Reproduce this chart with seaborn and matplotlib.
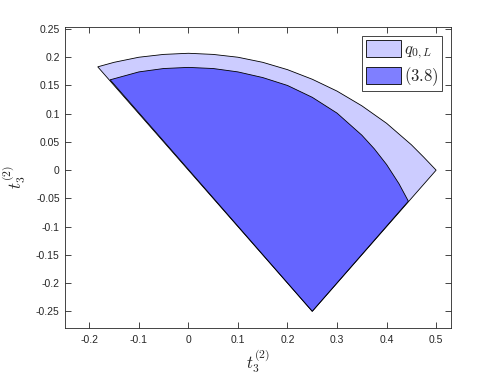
import numpy as np
import matplotlib
matplotlib.use("Agg")
import matplotlib.pyplot as plt
import seaborn as sns

# apex of both regions
apex_x = 0.25
apex_y = -0.25

# outer boundary (q_{0,L})
outer_x = [-0.183, -0.15, -0.1, -0.05, 0.0, 0.05, 0.1, 0.15, 0.2, 0.25, 0.3, 0.35, 0.4, 0.45, 0.475, 0.5]
outer_y = [0.183, 0.191, 0.200, 0.205, 0.207, 0.205, 0.200, 0.191, 0.178, 0.161, 0.140, 0.114, 0.083, 0.045, 0.023, 0.0]

# inner boundary (3.8)
inner_x = [-0.158, -0.1, -0.05, 0.0, 0.05, 0.1, 0.15, 0.2, 0.25, 0.3, 0.35, 0.375, 0.4, 0.425, 0.444]
inner_y = [0.160, 0.174, 0.180, 0.182, 0.180, 0.174, 0.164, 0.150, 0.129, 0.101, 0.062, 0.038, 0.010, -0.024, -0.055]

labels = [r"$q_{0,L}$", r"$(3.8)$"]

xticks = [-0.2, -0.1, 0, 0.1, 0.2, 0.3, 0.4, 0.5]
xtick_labels = ["-0.2", "-0.1", "0", "0.1", "0.2", "0.3", "0.4", "0.5"]
yticks = [-0.25, -0.2, -0.15, -0.1, -0.05, 0, 0.05, 0.1, 0.15, 0.2, 0.25]
ytick_labels = ["-0.25", "-0.2", "-0.15", "-0.1", "-0.05", "0", "0.05", "0.1", "0.15", "0.2", "0.25"]

sns.set_style("white")
plt.rcParams["font.family"] = ["Liberation Sans", "DejaVu Sans"]
plt.rcParams["mathtext.fontset"] = "cm"

fig = plt.figure(figsize=(4.98, 3.74), dpi=100)
ax = fig.add_axes([0.1296, 0.1238, 0.776, 0.8032])

ink = "#262626"

ax.fill([apex_x] + outer_x + [apex_x], [apex_y] + outer_y + [apex_y],
        facecolor=(0, 0, 1, 0.2), edgecolor="k", linewidth=0.6, label=labels[0])
ax.fill([apex_x] + inner_x + [apex_x], [apex_y] + inner_y + [apex_y],
        facecolor=(0, 0, 1, 0.5), edgecolor="k", linewidth=0.6, label=labels[1])

ax.set_xlim(-0.25, 0.53)
ax.set_ylim(-0.279, 0.253)
ax.set_xticks(xticks)
ax.set_xticklabels(xtick_labels)
ax.set_yticks(yticks)
ax.set_yticklabels(ytick_labels)

ax.tick_params(axis="both", direction="in", length=4, width=0.6, colors=ink,
               labelsize=7.5, top=True, right=True, bottom=True, left=True)
ax.tick_params(axis="x", pad=5.5)
ax.tick_params(axis="y", pad=3.5)
for s in ax.spines.values():
    s.set_color(ink)
    s.set_linewidth(0.6)
    s.set_visible(True)

ax.set_xlabel(r"$t_3^{(2)}$", fontsize=12, labelpad=1.5)
ax.set_ylabel(r"$t_3^{(2)}$", fontsize=12, labelpad=6)

leg = ax.legend(loc="upper right", fontsize=12, frameon=True, fancybox=False,
                framealpha=1, edgecolor=ink, handlelength=2.15, handleheight=1.2,
                handletextpad=0.15, borderpad=0.2, labelspacing=0.25,
                borderaxespad=0.55)
leg.get_frame().set_linewidth(0.6)

fig.savefig("out.png", dpi=100)
